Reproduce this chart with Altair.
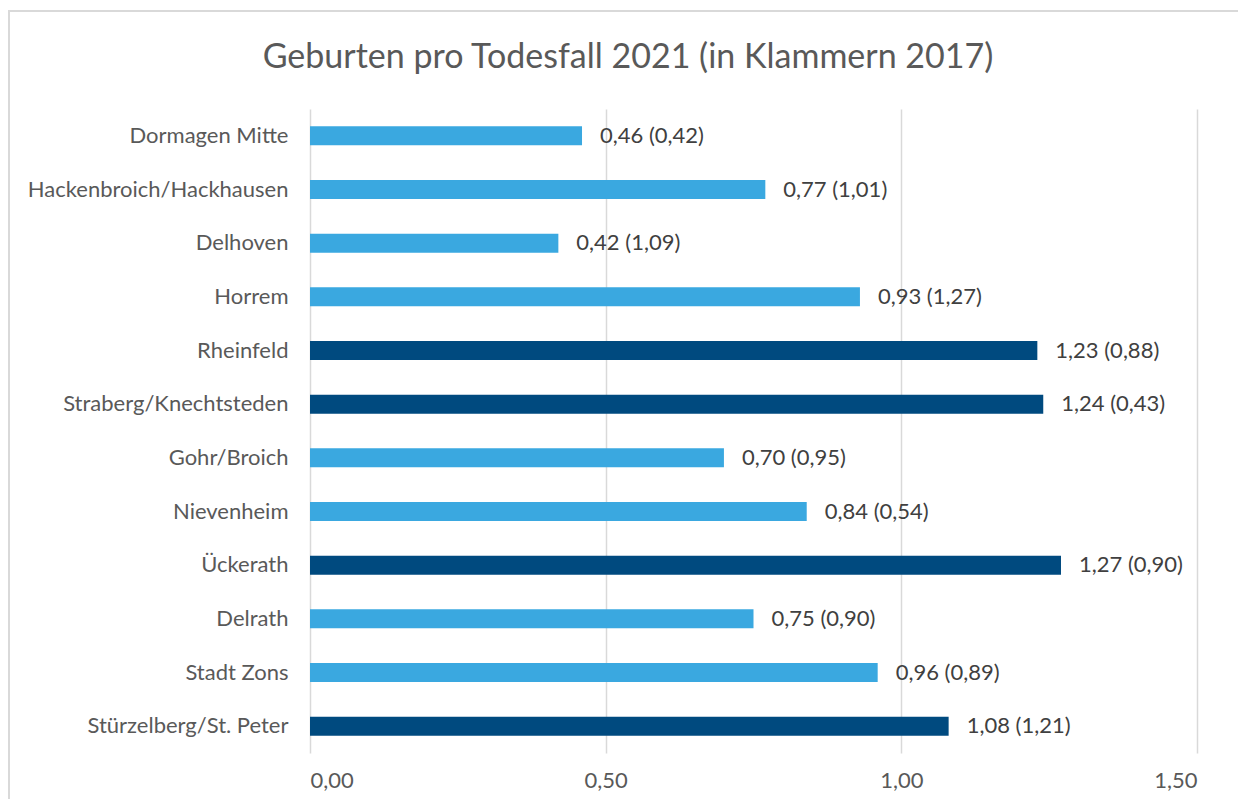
import altair as alt
import pandas as pd

ortsteile = [
    "Dormagen Mitte", "Hackenbroich/Hackhausen", "Delhoven", "Horrem",
    "Rheinfeld", "Straberg/Knechtsteden", "Gohr/Broich", "Nievenheim",
    "Ückerath", "Delrath", "Stadt Zons", "Stürzelberg/St. Peter ",
]
werte_2021 = [0.46, 0.77, 0.42, 0.93, 1.23, 1.24, 0.70, 0.84, 1.27, 0.75, 0.96, 1.08]
werte_2017 = [0.42, 1.01, 1.09, 1.27, 0.88, 0.43, 0.95, 0.54, 0.90, 0.90, 0.89, 1.21]
x_ticks = [0.0, 0.5, 1.0, 1.5]
titel = "Geburten pro Todesfall 2021 (in Klammern 2017)"

def de(v):
    return f"{v:.2f}".replace(".", ",")

df = pd.DataFrame({
    "ort": ortsteile,
    "w21": werte_2021,
    "w17": werte_2017,
})
df["label"] = [f"{de(a)} ({de(b)})" for a, b in zip(werte_2021, werte_2017)]
df["gruppe"] = ["ueber" if v > 1 else "unter" for v in werte_2021]

FONT = "Lato"
FS = 22
W, H = 887, 644

base = alt.Chart(df)

y_enc = alt.Y("ort:N", sort=ortsteile,
              axis=alt.Axis(title=None, ticks=False, domain=False, grid=False,
                            labelFont=FONT, labelFontSize=FS, labelColor="#595959",
                            labelPadding=22, labelLimit=400),
              scale=alt.Scale(paddingInner=0.0, paddingOuter=0.0))

bars = base.mark_bar(size=19).encode(
    x=alt.X("w21:Q", scale=alt.Scale(domain=[0, 1.5], nice=False),
            axis=alt.Axis(title=None, values=x_ticks, ticks=False, domain=False,
                          grid=True, gridColor="#D9D9D9", gridWidth=1.5,
                          labelFont=FONT, labelFontSize=FS, labelColor="#595959",
                          labelPadding=17,
                          labelExpr="replace(format(datum.value, '.2f'), '.', ',')")),
    y=y_enc,
    color=alt.Color("gruppe:N",
                    scale=alt.Scale(domain=["unter", "ueber"], range=["#3AA8E0", "#004A7F"]),
                    legend=None),
)

labels = base.mark_text(align="left", baseline="middle", dx=18,
                        font=FONT, fontSize=FS, color="#404040").encode(
    x="w21:Q", y=y_enc, text="label:N"
)

border = alt.Chart(pd.DataFrame({"k": [0]})).mark_rect(
    fill=None, stroke="#D9D9D9", strokeWidth=2
).encode(x=alt.value(-301), x2=alt.value(960), y=alt.value(-98), y2=alt.value(720))

title_mark = alt.Chart(pd.DataFrame({"t": [titel]})).mark_text(
    font=FONT, fontSize=34, color="#595959", align="center", baseline="middle"
).encode(text="t:N", x=alt.value(318), y=alt.value(-51))

chart = alt.layer(border, bars, labels, title_mark).properties(
    width=W, height=H,
    autosize=alt.AutoSizeParams(type="none"),
    padding={"left": 302, "top": 101, "right": 41, "bottom": 46},
    background="white",
).configure_view(stroke=None)

chart.save("out.html", embed_options={"renderer": "svg", "actions": False})
